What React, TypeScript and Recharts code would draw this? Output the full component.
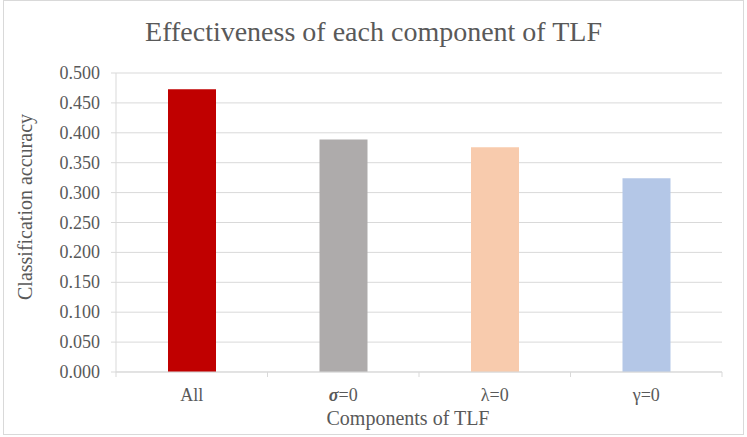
import { BarChart, Bar, XAxis, YAxis, CartesianGrid, Cell } from "recharts";

const components = ["All", "σ=0", "λ=0", "γ=0"];
const accuracy = [0.473, 0.389, 0.376, 0.324];
const barColors = ["#C00000", "#AEABAB", "#F8CBAD", "#B4C7E7"];
const yTicks = [0, 0.05, 0.1, 0.15, 0.2, 0.25, 0.3, 0.35, 0.4, 0.45, 0.5];
const boundaryTicks = [0, 1, 2, 3, 4];

const data = components.map((name, i) => ({ name, value: accuracy[i], pos: i + 0.5 }));

const FONT = "'Liberation Serif', 'Times New Roman', serif";
const TEXT = "#595959";
const LINE = "#d9d9d9";

function CategoryTick(props: any) {
  const { x, y, payload } = props;
  const label: string = payload.value;
  const sigma = label.startsWith("σ");
  return (
    <text x={x} y={y + 28} textAnchor="middle" fill={TEXT} fontSize={18}>
      {sigma ? (
        <>
          <tspan fontWeight="bold" fontStyle="italic">σ</tspan>
          <tspan>{label.slice(1)}</tspan>
        </>
      ) : (
        label
      )}
    </text>
  );
}

function BoundaryTick(props: any) {
  const { x, y } = props;
  return <line x1={x} x2={x} y1={y} y2={y + 5} stroke={LINE} />;
}

function ValueTick(props: any) {
  const { x, y, payload } = props;
  return (
    <text x={x} y={y} textAnchor="end" dominantBaseline="central" fill={TEXT} fontSize={18}>
      {Number(payload.value).toFixed(3)}
    </text>
  );
}

export default function App() {
  return (
    <div style={{ position: "absolute", left: 0, top: 0, width: 747, height: 437, background: "#fff", fontFamily: FONT }}>
      <style>{`.tlf-chart svg text, .tlf-chart svg tspan { font-family: ${FONT} !important; }`}</style>
      <div
        style={{
          position: "absolute",
          left: 3,
          top: 0,
          width: 741,
          height: 435,
          border: `1px solid ${LINE}`,
          boxSizing: "border-box",
        }}
      />
      <div
        style={{
          position: "absolute",
          left: 0,
          top: 18,
          width: 747,
          textAlign: "center",
          fontFamily: FONT,
          fontSize: 28,
          lineHeight: "28px",
          color: TEXT,
        }}
      >
        Effectiveness of each component of TLF
      </div>
      <div className="tlf-chart" style={{ position: "absolute", left: 0, top: 0 }}>
        <BarChart
          width={747}
          height={437}
          data={data}
          margin={{ top: 73, right: 25, bottom: 0, left: 0 }}
          barSize={48}
        >
          <CartesianGrid vertical={false} stroke={LINE} xAxisId="cat" />
          <XAxis
            xAxisId="bounds"
            dataKey="pos"
            type="number"
            domain={[0, 4]}
            ticks={boundaryTicks}
            allowDataOverflow
            height={1}
            stroke={LINE}
            tickLine={false}
            tickSize={0}
            tickMargin={0}
            interval={0}
            tick={<BoundaryTick />}
          />
          <XAxis
            xAxisId="cat"
            dataKey="name"
            height={64}
            axisLine={false}
            tickLine={false}
            tickSize={0}
            tickMargin={0}
            interval={0}
            tick={<CategoryTick />}
            label={{
              content: () => (
                <text x={408} y={425} textAnchor="middle" fill={TEXT} fontSize={20}>
                  Components of TLF
                </text>
              ),
            }}
          />
          <YAxis
            width={116}
            domain={[0, 0.5]}
            ticks={yTicks}
            interval={0}
            stroke={LINE}
            tickSize={5}
            tickMargin={11}
            tick={<ValueTick />}
            label={{
              content: () => (
                <text
                  x={25}
                  y={207}
                  transform="rotate(-90 25 207)"
                  textAnchor="middle"
                  dominantBaseline="central"
                  fill={TEXT}
                  fontSize={20}
                >
                  Classification accuracy
                </text>
              ),
            }}
          />
          <Bar dataKey="value" xAxisId="cat" isAnimationActive={false}>
            {data.map((d, i) => (
              <Cell key={d.name} fill={barColors[i]} />
            ))}
          </Bar>
        </BarChart>
      </div>
    </div>
  );
}
